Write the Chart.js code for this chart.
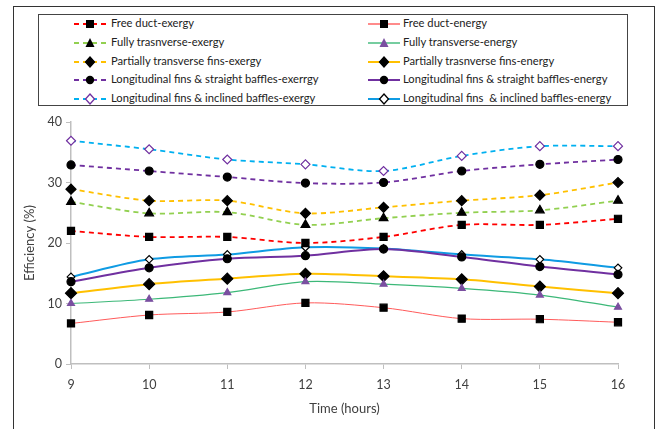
<!DOCTYPE html>
<html>
<head>
<meta charset="utf-8">
<script src="https://cdn.jsdelivr.net/npm/chart.js@4.4.1/dist/chart.umd.min.js"></script>
<style>
    body { margin: 0; background: #fff; }
    #wrap { position: relative; width: 661px; height: 429px; overflow: hidden; }
    #frame { position: absolute; left: 13px; top: 6px; width: 640px; height: 440px; border: 1.5px solid #333; }
    #legend { position: absolute; left: 38px; top: 14px; width: 588px; height: 90px; border: 1.5px solid #444; }
    .item { position: absolute; height: 18px; font: 11.2px Lato, sans-serif; color: #222; white-space: pre; }
    .item svg { position: absolute; left: 0; top: 1px; }
    .item span { position: absolute; top: 1px; }
    #chart { position: absolute; left: 0; top: 0; }
</style>
</head>
<body>
<div id="wrap">
    <div id="frame"></div>
    <div id="legend"></div>
    <canvas id="chart" width="661" height="429"></canvas>
</div>
<script>
// Time of day (hours)
var hours = ["9", "10", "11", "12", "13", "14", "15", "16"];

// Exergy efficiency (%)
var freeDuctExergy = [22, 21, 21, 20, 21, 23, 23, 24];
var fullyTransExergy = [26.8, 24.9, 25.1, 23, 24.1, 25, 25.4, 27];
var partialTransExergy = [28.9, 27, 27, 24.9, 25.9, 27, 27.9, 30];
var longStraightExergy = [32.9, 31.9, 30.9, 29.9, 30, 31.9, 33, 33.8];
var longInclinedExergy = [36.9, 35.5, 33.8, 33, 31.9, 34.4, 36, 36];

// Energy efficiency (%)
var freeDuctEnergy = [6.7, 8.1, 8.6, 10.1, 9.3, 7.5, 7.4, 6.9];
var fullyTransEnergy = [10, 10.7, 11.8, 13.6, 13.2, 12.5, 11.4, 9.4];
var partialTransEnergy = [11.7, 13.2, 14.1, 14.9, 14.5, 14, 12.8, 11.7];
var longStraightEnergy = [13.6, 15.9, 17.4, 17.9, 19, 17.7, 16.1, 14.8];
var longInclinedEnergy = [14.4, 17.3, 18.1, 19.3, 19.1, 18.1, 17.3, 15.9];

var yTicks = [0, 10, 20, 30, 40];

function makeSeries(label, data, color, width, dashed, marker, radius, fill, edge) {
    return {
        label: label,
        data: data,
        borderColor: color,
        borderWidth: width,
        borderDash: dashed ? [5, 4] : [],
        pointStyle: marker,
        pointRadius: radius,
        pointBackgroundColor: fill,
        pointBorderColor: edge,
        pointBorderWidth: 1.2,
        tension: 0.3,
        fill: false
    };
}

var seriesList = [
    makeSeries("Free duct-exergy", freeDuctExergy, "#FF0000", 1.8, true, "rect", 5, "#000", "#000"),
    makeSeries("Free duct-energy", freeDuctEnergy, "#FF5A5A", 1, false, "rect", 5, "#000", "#000"),
    makeSeries("Fully trasnverse-exergy", fullyTransExergy, "#92D050", 1.8, true, "triangle", 5, "#000", "#000"),
    makeSeries("Fully transverse-energy", fullyTransEnergy, "#3CB878", 1.2, false, "triangle", 4, "#7A4FA0", "#7A4FA0"),
    makeSeries("Partially transverse fins-exergy", partialTransExergy, "#FFC000", 1.8, true, "rectRot", 5, "#000", "#000"),
    makeSeries("Partially trasnverse fins-energy", partialTransEnergy, "#FFC000", 2, false, "rectRot", 5.5, "#000", "#000"),
    makeSeries("Longitudinal fins & straight baffles-exerrgy", longStraightExergy, "#7030A0", 1.8, true, "circle", 4, "#000", "#000"),
    makeSeries("Longitudinal fins & straight baffles-energy", longStraightEnergy, "#7030A0", 2, false, "circle", 4, "#000", "#000"),
    makeSeries("Longitudinal fins & inclined baffles-exergy", longInclinedExergy, "#00B0F0", 1.8, true, "rectRot", 4.5, "#fff", "#7030A0"),
    makeSeries("Longitudinal fins  & inclined baffles-energy", longInclinedEnergy, "#0F9BE3", 2, false, "rectRot", 3.8, "#fff", "#000")
];

function markerSvg(series) {
    // Build a small line + marker sample for the legend.
    var d = series.borderDash.length ? ' stroke-dasharray="5,4"' : '';
    var s = '<svg width="34" height="16"><line x1="1" y1="8" x2="33" y2="8" stroke="' + series.borderColor +
        '" stroke-width="' + Math.max(series.borderWidth, 1.4) + '"' + d + '/>';
    var f = series.pointBackgroundColor, e = series.pointBorderColor;
    if (series.pointStyle === "rect") {
        s += '<rect x="13" y="4" width="8" height="8" fill="' + f + '"/>';
    } else if (series.pointStyle === "triangle") {
        s += '<polygon points="17,3 21.5,12 12.5,12" fill="' + f + '"/>';
    } else if (series.pointStyle === "circle") {
        s += '<circle cx="17" cy="8" r="4.2" fill="' + f + '"/>';
    } else {
        s += '<polygon points="17,3 21.5,8 17,13 12.5,8" fill="' + f + '" stroke="' + e + '" stroke-width="1.3"/>';
    }
    return s + '</svg>';
}

function buildLegend() {
    var legend = document.getElementById("legend");
    for (var i = 0; i < seriesList.length; ++i) {
        var row = Math.floor(i / 2);
        var col = i % 2;
        var div = document.createElement("div");
        div.className = "item";
        div.style.left = (col === 0 ? 34 : 328) + "px";
        div.style.top = (row * 18.8) + "px";
        div.innerHTML = markerSvg(seriesList[i]) + '<span style="left:' + (col === 0 ? 38 : 36) + 'px">' +
            seriesList[i].label + '</span>';
        legend.appendChild(div);
    }
}

buildLegend();

var axisFont = { family: "Lato", size: 12.5 };
var titleFont = { family: "Lato", size: 13 };

new Chart(document.getElementById("chart"), {
    type: 'line',
    data: {
        labels: hours,
        datasets: seriesList
    },
    options: {
        responsive: false,
        animation: false,
        devicePixelRatio: 1,
        layout: { padding: { left: 0, top: 122, right: 43, bottom: 0 } },
        plugins: {
            legend: { display: false },
            tooltip: { enabled: false }
        },
        scales: {
            x: {
                offset: false,
                grid: { display: true, drawOnChartArea: false, color: "#BFBFBF", tickLength: 5 },
                border: { color: "#BFBFBF", width: 1.5 },
                ticks: { color: "#404040", font: axisFont, padding: 8, maxRotation: 0 },
                title: { display: true, text: "Time (hours)", color: "#404040",
                    font: titleFont, padding: { top: 0, bottom: 12 } },
                afterFit: function (scale) { scale.height = 65; }
            },
            y: {
                min: 0,
                max: 40,
                afterBuildTicks: function (scale) {
                    scale.ticks = yTicks.map(function (v) { return { value: v }; });
                },
                grid: { display: true, drawOnChartArea: false, color: "#BFBFBF", tickLength: 5 },
                border: { color: "#BFBFBF", width: 1.5 },
                ticks: { color: "#404040", font: axisFont, padding: 4 },
                title: { display: true, text: "Efficiency (%)", color: "#404040",
                    font: titleFont, padding: { top: 22, bottom: 0 } },
                afterFit: function (scale) { scale.width = 71; }
            }
        }
    }
});
</script>
</body>
</html>
